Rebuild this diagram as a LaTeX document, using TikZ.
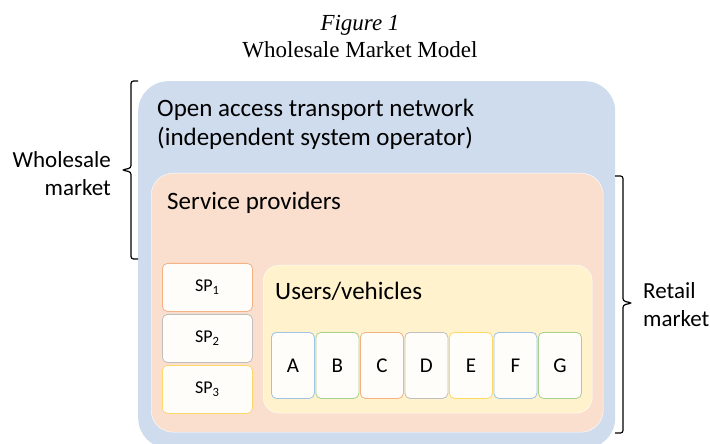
\documentclass[tikz,border=0pt]{standalone}
\usepackage{fontspec}
\setmainfont{Carlito}
\newfontfamily\timesfont{Liberation Serif}
\usetikzlibrary{positioning}

\definecolor{netblue}{HTML}{CFDCEE}
\definecolor{spfill}{HTML}{FADFCE}
\definecolor{userfill}{HTML}{FFF2CC}
\definecolor{cellfill}{HTML}{FFFDF9}
\definecolor{lorange}{HTML}{F4B183}
\definecolor{lgray}{HTML}{BFBFBF}
\definecolor{lgold}{HTML}{FFD966}
\definecolor{lblue}{HTML}{9DC3E6}
\definecolor{lgreen}{HTML}{A9D18E}

\tikzset{
  area/.style={rectangle,inner sep=0pt,anchor=north west},
  cell/.style={rectangle,inner sep=0pt,rounded corners=5bp,fill=cellfill,line width=0.8bp,anchor=north west},
  bigtext/.style={inner sep=0pt,font=\fontsize{25bp}{29bp}\selectfont},
  sidetext/.style={inner sep=0pt,font=\fontsize{23bp}{28bp}\selectfont},
  titletext/.style={inner sep=0pt,font=\timesfont\fontsize{23bp}{28bp}\selectfont},
  brace/.style={line width=1.2bp,rounded corners=2.5bp}
}

\begin{document}
\begin{tikzpicture}[x=1bp,y=-1bp]
	\useasboundingbox (0,0) rectangle (710,444);
	% title
	\path (360,31) node [titletext,anchor=base] (fig) {\textit{Figure 1}};
	\path (360,58) node [titletext,anchor=base] (title) {Wholesale Market Model};
	% nested areas
	\path (138,81) node [area,fill=netblue,rounded corners=30bp,minimum width=477bp,minimum height=367bp] (net) {};
	\path (151,173) node [area,fill=spfill,draw=white,rounded corners=22bp,minimum width=452bp,minimum height=259bp] (prov) {};
	\path (263,265) node [area,fill=userfill,draw=white,rounded corners=16bp,minimum width=329bp,minimum height=148bp] (users) {};
	\path (157,99) node [bigtext,anchor=north west,align=left] (nettxt) {Open access transport network\\(independent system operator)};
	\path (167,210) node [bigtext,anchor=base west] (provtxt) {Service providers};
	\path (275,300) node [bigtext,anchor=base west] (userstxt) {Users/vehicles};
	% service providers
	\foreach \n/\col/\y in {1/lorange/263, 2/lgray/314, 3/lgold/365}
		\path (162,\y) node [cell,draw=\col,minimum width=90bp,minimum height=48bp,
			font=\fontsize{18bp}{20bp}\selectfont] (sp\n) {SP\textsubscript{\n}};
	% users
	\foreach \l/\col [count=\i from 0] in {A/lblue, B/lgreen, C/lorange, D/lgray, E/lgold, F/lblue, G/lgreen}
		\path (271+44.5*\i,332) node [cell,draw=\col,minimum width=43bp,minimum height=66bp,
			font=\fontsize{21bp}{23bp}\selectfont] (u\l) {\l};
	% braces
	\draw [brace] (138,81) -- (131,81) -- (131,168) -- (122,170) -- (131,172) -- (131,259) -- (138,259);
	\draw [brace] (615,176) -- (623,176) -- (623,301) -- (632,303) -- (623,305) -- (623,433) -- (615,433);
	\path (111,174) node [sidetext,anchor=east,align=right] (whole) {Wholesale\\market};
	\path (643,305) node [sidetext,anchor=west,align=left] (retail) {Retail\\market};
\end{tikzpicture}
\end{document}
